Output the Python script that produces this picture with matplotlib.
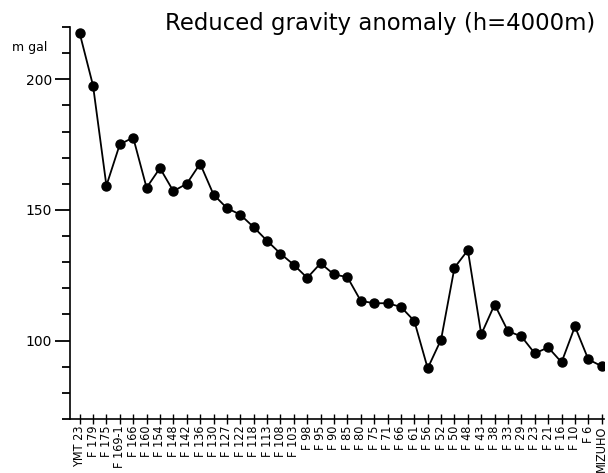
import matplotlib
matplotlib.use("Agg")
import matplotlib.pyplot as plt
from matplotlib.ticker import MultipleLocator, FixedLocator

stations = ["YMT 23", "F 179", "F 175", "F 169-1", "F 166", "F 160", "F 154", "F 148",
            "F 142", "F 136", "F 130", "F 127", "F 122", "F 118", "F 113", "F 108",
            "F 103", "F 98", "F 95", "F 90", "F 85", "F 80", "F 75", "F 71", "F 66",
            "F 61", "F 56", "F 52", "F 50", "F 48", "F 43", "F 38", "F 33", "F 29",
            "F 23", "F 21", "F 16", "F 10", "F 6", "MIZUHO"]
anomaly = [217.7, 197.6, 159.3, 175.1, 177.7, 158.5, 166.0, 157.2, 160.0, 167.7,
           155.9, 150.7, 148.2, 143.4, 138.2, 133.3, 129.0, 124.0, 129.6, 125.3,
           124.3, 115.2, 114.3, 114.3, 112.9, 107.5, 89.4, 100.4, 127.9, 134.6,
           102.4, 113.8, 103.6, 101.6, 95.1, 97.4, 91.7, 105.4, 92.8, 90.2]
yticks_major = [100, 150, 200]

fig = plt.figure(figsize=(6.08, 4.73), dpi=100)
ax = fig.add_axes([70/608, 1 - 419/473, (604 - 70)/608, (419 - 27)/473])

x = list(range(len(stations)))
ax.plot(x, anomaly, color="black", lw=1.3, marker="o", markersize=6.5,
        markerfacecolor="black", markeredgecolor="black")

ax.set_xlim(-0.72, len(stations) - 1 + 0.17)
ax.set_ylim(70, 220)

ax.spines["top"].set_visible(False)
ax.spines["right"].set_visible(False)
ax.spines["left"].set_linewidth(1.2)
ax.spines["bottom"].set_linewidth(1.2)

ax.yaxis.set_major_locator(FixedLocator(yticks_major))
ax.yaxis.set_minor_locator(MultipleLocator(10))
ax.tick_params(axis="y", which="major", direction="out", length=11, width=1.3,
               labelsize=10, pad=2)
ax.tick_params(axis="y", which="minor", direction="out", length=6, width=1.3)

ax.set_xticks(x)
ax.set_xticklabels(stations, rotation=90, fontsize=9, fontstretch="condensed")
ax.tick_params(axis="x", which="major", direction="inout", length=7, width=1.0, pad=1)

fig.text(165/608, 1 - 30/473, "Reduced gravity anomaly (h=4000m)", fontsize=16.4,
         ha="left", va="baseline")
fig.text(12/608, 1 - 51/473, "m gal", fontsize=9, ha="left", va="baseline")

fig.savefig("out.png", dpi=100)
